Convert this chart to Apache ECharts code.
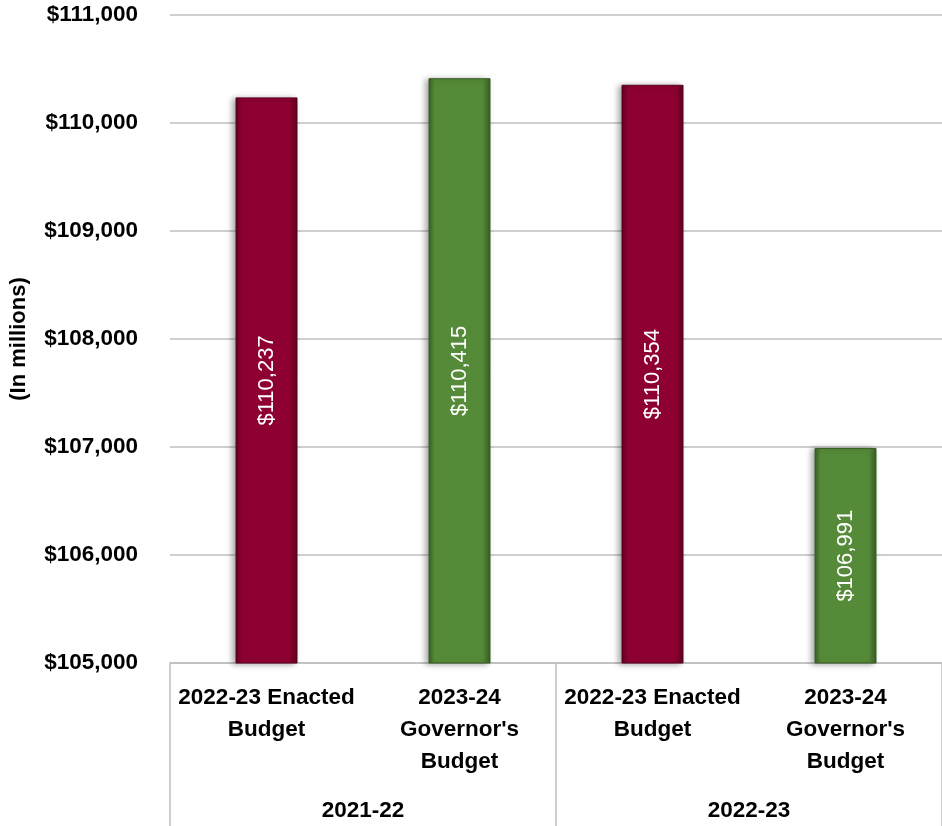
<!DOCTYPE html>
<html>
<head>
<meta charset="utf-8">
<script src="https://cdn.jsdelivr.net/npm/echarts@6/dist/echarts.min.js"></script>
<style>
html,body{margin:0;padding:0;background:#fff;}
#c{width:942px;height:826px;}
</style>
</head>
<body>
<div id="c"></div>
<script>
const categories = ["2022-23 Enacted\nBudget", "2023-24\nGovernor's\nBudget", "2022-23 Enacted\nBudget", "2023-24\nGovernor's\nBudget"];
const groups = ["2021-22", "2022-23"];
const values = [110237, 110415, 110354, 106991];
const barColors = ["#8E0032", "#558B38", "#8E0032", "#558B38"];
const barEdges = ["#5C0020", "#3A5E26", "#5C0020", "#3A5E26"];
const yMin = 105000, yMax = 111000, yStep = 1000;

const FONT = '"Liberation Sans Narrow", "Arial Narrow", "Liberation Sans", Arial, sans-serif';
const fmt = v => '$' + v.toLocaleString('en-US');

function grad(c, e) {
  return new echarts.graphic.LinearGradient(0, 0, 1, 0, [
    {offset: 0, color: e},
    {offset: 0.1, color: c},
    {offset: 0.88, color: c},
    {offset: 1, color: e}
  ]);
}

const chart = echarts.init(document.getElementById('c'), null, {renderer: 'canvas'});
chart.setOption({
  animation: false,
  grid: {left: 167, right: 0, top: 15, bottom: 163},
  xAxis: [
    {
      type: 'category', data: categories, position: 'bottom',
      axisLine: {show: true, lineStyle: {color: '#BFBFBF', width: 1.5}},
      axisTick: {show: false},
      axisLabel: {color: '#000', fontFamily: FONT, fontWeight: 'bold', fontSize: 22.5, lineHeight: 32, margin: 19, interval: 0}
    },
    {
      type: 'category', data: groups, position: 'bottom',
      axisLine: {show: false},
      axisTick: {show: true, length: 165, alignWithLabel: false, lineStyle: {color: '#BFBFBF', width: 1.5}},
      axisLabel: {color: '#000', fontFamily: FONT, fontWeight: 'bold', fontSize: 22.5, margin: 136, interval: 0}
    }
  ],
  yAxis: {
    type: 'value', min: yMin, max: yMax, interval: yStep,
    name: '(In millions)', nameLocation: 'middle', nameGap: 140, nameRotate: 90,
    nameTextStyle: {color: '#000', fontFamily: FONT, fontWeight: 'bold', fontSize: 22},
    axisLine: {show: false}, axisTick: {show: false},
    axisLabel: {color: '#000', fontFamily: FONT, fontWeight: 'bold', fontSize: 22.5, margin: 32, formatter: v => fmt(v)},
    splitLine: {lineStyle: {color: '#BFBFBF', width: 1.5}}
  },
  series: [{
    type: 'bar', xAxisIndex: 0, barWidth: 62,
    data: values.map((v, i) => ({value: v, itemStyle: {color: grad(barColors[i], barEdges[i]), borderColor: barEdges[i], borderWidth: 1}})),
    itemStyle: {shadowBlur: 6, shadowOffsetX: -3, shadowOffsetY: 1, shadowColor: 'rgba(0,0,0,0.35)'},
    label: {
      show: true, position: 'inside', rotate: 90, color: '#fff',
      fontFamily: FONT, fontSize: 22, formatter: p => fmt(p.value)
    }
  }]
});
</script>
</body>
</html>
